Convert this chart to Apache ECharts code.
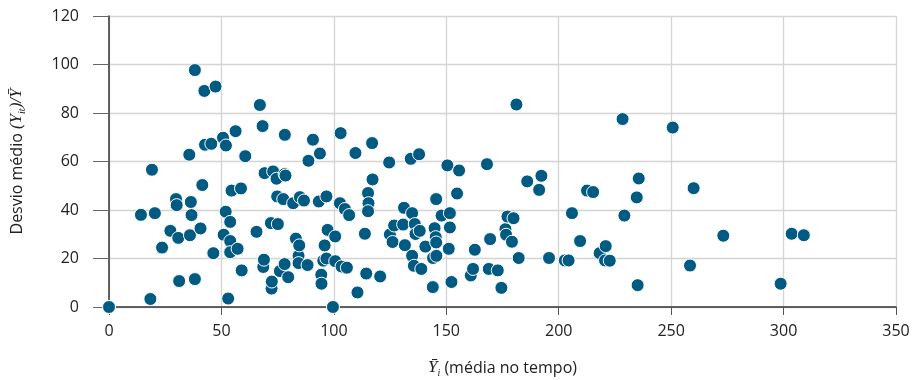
<!DOCTYPE html>
<html>
<head>
<meta charset="utf-8">
<script src="https://cdn.jsdelivr.net/npm/echarts@6/dist/echarts.min.js"></script>
<style>
  html, body { margin: 0; padding: 0; background: #fff; }
  #chart { width: 914px; height: 380px; }
</style>
</head>
<body>
<div id="chart"></div>
<script>
// eixo x: média no tempo
const mediaTempo = [
  0, 18.4, 19.1, 14.2, 20.4, 23.6, 27.3, 29.8, 30.1, 30.8,
  31.2, 35.7, 36.0, 36.4, 36.7, 38.2, 38.2, 40.7, 41.5, 42.4,
  42.7, 45.5, 46.4, 47.4, 50.7, 51.0, 51.9, 52.0, 53.0, 53.9,
  53.9, 53.9, 54.5, 56.3, 57.2, 58.7, 59.0, 60.6, 65.6, 67.1,
  68.3, 68.6, 68.9, 69.2, 72.0, 72.3, 72.4, 73.0, 74.5, 74.8,
  75.1, 76.0, 77.5, 78.1, 78.5, 78.1, 78.2, 79.7, 81.9, 83.1,
  84.3, 84.3, 84.6, 84.9, 86.7, 88.3, 88.7, 90.7, 93.3, 93.8,
  94.4, 94.5, 95.3, 95.9, 96.7, 96.7, 97.2, 99.6, 100.6, 100.6,
  102.7, 103.0, 103.4, 104.9, 105.8, 106.8, 109.6, 110.5, 113.8, 114.4,
  115.2, 115.4, 115.2, 117.0, 117.2, 120.6, 124.6, 124.9, 126.1, 126.8,
  130.8, 131.2, 131.6, 134.8, 134.2, 134.8, 135.6, 136.0, 136.3, 137.9,
  138.2, 138.9, 140.7, 144.0, 144.1, 144.8, 145.3, 145.5, 145.5, 145.6,
  147.9, 150.5, 151.1, 151.6, 151.6, 152.3, 154.8, 155.7, 160.9, 161.9,
  162.7, 168.1, 168.9, 169.5, 172.9, 174.5, 176.3, 176.6, 177.2, 179.2,
  179.9, 181.2, 182.2, 186.0, 191.3, 192.3, 195.7, 202.7, 204.4, 205.9,
  209.5, 212.6, 215.3, 218.2, 220.6, 220.9, 222.7, 228.4, 229.2, 234.7,
  235.1, 235.6, 250.7, 258.4, 260.0, 273.2, 298.7, 303.6, 309.0
];
// eixo y: desvio médio
const desvioMedio = [
  0, 3.3, 56.6, 38.0, 38.7, 24.5, 31.4, 44.5, 42.0, 28.5,
  10.7, 62.8, 29.6, 43.3, 37.9, 11.5, 97.7, 32.4, 50.3, 89.1,
  66.9, 67.3, 22.2, 90.9, 69.8, 29.8, 39.3, 66.6, 3.5, 35.1,
  27.2, 22.6, 48.0, 72.5, 24.0, 48.9, 15.1, 62.2, 31.0, 83.3,
  74.6, 16.5, 19.5, 55.2, 34.6, 7.6, 10.5, 55.9, 52.9, 45.6,
  34.2, 14.8, 44.5, 54.8, 54.2, 17.7, 71.0, 12.3, 42.8, 28.2,
  21.1, 18.1, 25.4, 45.3, 43.9, 17.3, 60.3, 69.0, 43.5, 63.3,
  13.3, 9.6, 19.1, 25.4, 20.0, 45.6, 31.8, 0, 29.1, 18.9,
  42.8, 71.7, 16.7, 40.4, 16.2, 37.9, 63.5, 6.0, 30.2, 13.8,
  47.0, 42.8, 39.5, 67.6, 52.6, 12.6, 59.6, 29.9, 26.8, 33.6,
  34.0, 40.9, 25.5, 21.1, 61.1, 38.7, 17.0, 34.2, 30.1, 63.0,
  31.4, 15.7, 24.9, 8.2, 20.2, 32.5, 28.8, 26.6, 44.5, 21.1,
  37.7, 58.4, 24.0, 38.7, 32.8, 10.3, 46.8, 56.3, 13.0, 15.7,
  23.6, 58.9, 15.7, 28.0, 15.1, 7.9, 32.1, 29.8, 37.3, 26.9,
  36.6, 83.5, 20.2, 51.8, 48.3, 54.1, 20.2, 19.2, 19.2, 38.7,
  27.2, 48.0, 47.4, 22.2, 19.2, 25.1, 19.1, 77.5, 37.7, 45.2,
  9.0, 53.0, 74.0, 17.1, 49.0, 29.4, 9.6, 30.2, 29.6
];
const xTicks = [0, 50, 100, 150, 200, 250, 300, 350];
const yTicks = [0, 20, 40, 60, 80, 100, 120];

const pontos = mediaTempo.map((x, i) => [x, desvioMedio[i]]);

const chart = echarts.init(document.getElementById('chart'));
const fonte = '"Open Sans", "Noto Sans", sans-serif';
const serifStyle = { fontFamily: '"Liberation Serif", "DejaVu Serif", serif', fontStyle: 'italic', fontSize: 17, color: '#222' };

const option = {
  animation: false,
  grid: { left: 109, right: 18, top: 16, bottom: 73, outerBoundsMode: 'none' },
  xAxis: {
    type: 'value',
    min: xTicks[0],
    max: xTicks[xTicks.length - 1],
    interval: 50,
    name: '{y|Ȳ}{s|i}{n| (média no tempo)}',
    nameLocation: 'middle',
    nameGap: 51,
    nameTextStyle: {
      rich: {
        n: { fontFamily: fonte, fontSize: 16, color: '#222' },
        y: serifStyle,
        s: Object.assign({}, serifStyle, { fontSize: 10, padding: [10, 0, 0, 0] })
      }
    },
    axisLine: { show: true, lineStyle: { color: '#333', width: 1.5 } },
    axisTick: { show: true, length: 8, lineStyle: { color: '#555' } },
    axisLabel: { fontFamily: fonte, fontSize: 16, color: '#222', margin: 16 },
    splitLine: { show: true, lineStyle: { color: '#d4d4d4', width: 1.3 } }
  },
  yAxis: {
    type: 'value',
    min: yTicks[0],
    max: yTicks[yTicks.length - 1],
    interval: 20,
    name: '{n|Desvio médio }{y|(Y}{s|it}{y|)/Ȳ}',
    nameLocation: 'middle',
    nameRotate: 90,
    nameGap: 82,
    nameTextStyle: {
      rich: {
        n: { fontFamily: fonte, fontSize: 16, color: '#222' },
        y: serifStyle,
        s: Object.assign({}, serifStyle, { fontSize: 10, padding: [10, 0, 0, 0] })
      }
    },
    axisLine: { show: true, lineStyle: { color: '#333', width: 1.5 } },
    axisTick: { show: true, length: 16, lineStyle: { color: '#666' } },
    axisLabel: { fontFamily: fonte, fontSize: 16, color: '#222', margin: 30 },
    splitLine: { show: true, lineStyle: { color: '#d4d4d4', width: 1.3 } }
  },
  series: [
    {
      type: 'scatter',
      data: pontos,
      symbolSize: 13,
      itemStyle: { color: '#005a82', opacity: 1, borderColor: '#fff', borderWidth: 1 }
    }
  ]
};
chart.setOption(option);
</script>
</body>
</html>
